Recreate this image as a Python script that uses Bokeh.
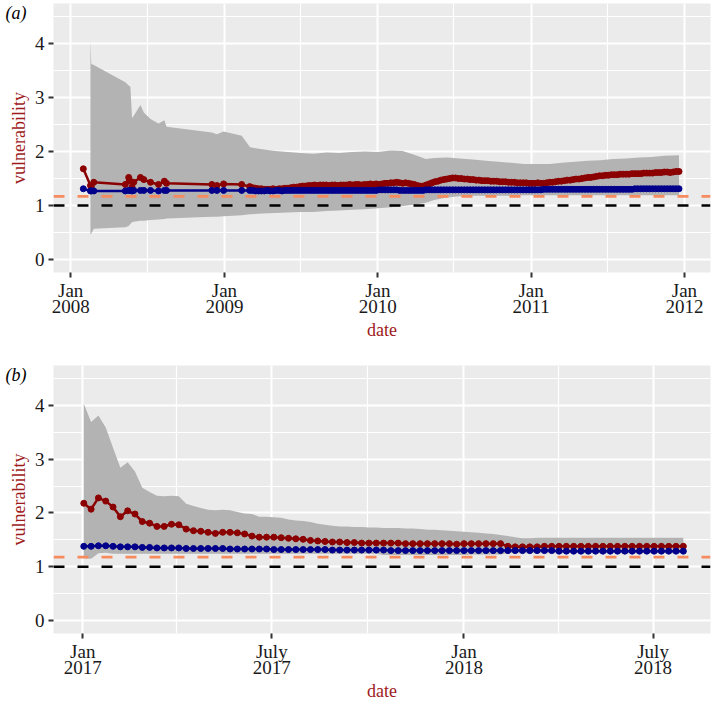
import numpy as np
import pandas as pd
from bokeh.plotting import figure
from bokeh.models import Span, FixedTicker, Range1d, LinearAxis
from bokeh.layouts import column
from bokeh.embed import file_html
from bokeh.resources import INLINE

# ---------------- panel (a) data ----------------
a_early_dates = ["2008-01-31", "2008-02-17", "2008-02-19", "2008-02-25", "2008-05-10",
                 "2008-05-18", "2008-05-22", "2008-05-26", "2008-05-30", "2008-06-15",
                 "2008-06-23", "2008-07-09", "2008-07-28", "2008-08-11", "2008-08-16",
                 "2008-12-02", "2008-12-14", "2008-12-30", "2009-02-11"]
a_early_red = [1.68, 1.37, 1.35, 1.43, 1.39, 1.52, 1.45, 1.34, 1.43, 1.52,
               1.48, 1.43, 1.39, 1.45, 1.41, 1.39, 1.37, 1.40, 1.39]
a_early_blue = [1.31, 1.27, 1.27, 1.27, 1.27, 1.28, 1.28, 1.27, 1.28, 1.28,
                1.28, 1.28, 1.27, 1.28, 1.28, 1.28, 1.28, 1.28, 1.28]
# weekly observations from 2009-03-02
a_weekly_start = "2009-03-02"
a_weekly_red = [
    1.35, 1.33, 1.32, 1.31, 1.31, 1.30, 1.30, 1.30, 1.31, 1.30, 1.31, 1.31,
    1.32, 1.32, 1.33, 1.34, 1.34, 1.35, 1.36, 1.36, 1.37, 1.37, 1.38, 1.37,
    1.38, 1.38, 1.38, 1.37, 1.38, 1.38, 1.37, 1.38, 1.38, 1.38, 1.39, 1.38,
    1.39, 1.39, 1.38, 1.39, 1.39, 1.40, 1.39, 1.40, 1.39, 1.40, 1.41, 1.41,
    1.42, 1.42, 1.43, 1.42, 1.41, 1.42, 1.41, 1.40, 1.39, 1.37, 1.36, 1.36,
    1.38, 1.40, 1.42, 1.44, 1.45, 1.47, 1.48, 1.49, 1.50, 1.51, 1.51, 1.50,
    1.50, 1.49, 1.49, 1.48, 1.48, 1.47, 1.47, 1.46, 1.46, 1.46, 1.45, 1.45,
    1.45, 1.44, 1.44, 1.44, 1.43, 1.43, 1.43, 1.42, 1.42, 1.42, 1.42, 1.41,
    1.41, 1.41, 1.42, 1.41, 1.41, 1.42, 1.43, 1.43, 1.44, 1.45, 1.45, 1.46,
    1.47, 1.47, 1.48, 1.49, 1.49, 1.50, 1.51, 1.52, 1.52, 1.53, 1.54, 1.55,
    1.55, 1.56, 1.56, 1.57, 1.57, 1.57, 1.58, 1.58, 1.58, 1.58, 1.59, 1.59,
    1.59, 1.59, 1.60, 1.60, 1.60, 1.60, 1.61, 1.61, 1.61, 1.62, 1.62, 1.61,
    1.62, 1.63, 1.63]
a_weekly_blue = [
    1.28, 1.28, 1.27, 1.27, 1.27, 1.27, 1.28, 1.27, 1.27, 1.28, 1.28, 1.27,
    1.28, 1.28, 1.28, 1.28, 1.28, 1.28, 1.28, 1.28, 1.28, 1.28, 1.28, 1.28,
    1.28, 1.28, 1.28, 1.28, 1.28, 1.28, 1.28, 1.28, 1.28, 1.28, 1.28, 1.28,
    1.28, 1.28, 1.28, 1.28, 1.28, 1.28, 1.28, 1.28, 1.29, 1.29, 1.29, 1.29,
    1.29, 1.29, 1.29, 1.28, 1.28, 1.28, 1.28, 1.28, 1.28, 1.28, 1.28, 1.28,
    1.29, 1.29, 1.29, 1.29, 1.29, 1.29, 1.29, 1.29, 1.29, 1.29, 1.29, 1.29,
    1.29, 1.29, 1.29, 1.29, 1.29, 1.29, 1.29, 1.29, 1.29, 1.29, 1.29, 1.29,
    1.29, 1.29, 1.29, 1.29, 1.29, 1.29, 1.29, 1.29, 1.29, 1.29, 1.29, 1.29,
    1.29, 1.29, 1.29, 1.29, 1.30, 1.30, 1.30, 1.30, 1.30, 1.30, 1.30, 1.30,
    1.30, 1.30, 1.30, 1.30, 1.30, 1.30, 1.30, 1.30, 1.30, 1.30, 1.30, 1.30,
    1.30, 1.30, 1.30, 1.30, 1.30, 1.30, 1.30, 1.30, 1.30, 1.30, 1.30, 1.31,
    1.31, 1.31, 1.31, 1.31, 1.31, 1.31, 1.31, 1.31, 1.31, 1.31, 1.31, 1.31,
    1.31, 1.31, 1.31]
a_rib_dates = ["2008-02-17", "2008-02-19", "2008-02-25", "2008-05-10", "2008-05-18",
               "2008-05-22", "2008-05-26", "2008-05-30", "2008-06-15", "2008-06-23",
               "2008-07-09", "2008-07-28", "2008-08-11", "2008-08-16", "2008-12-02",
               "2008-12-14", "2008-12-30", "2009-02-11", "2009-03-03", "2009-04-01",
               "2009-05-01", "2009-06-01", "2009-07-01", "2009-08-01", "2009-09-01",
               "2009-10-01", "2009-11-01", "2009-12-01", "2010-01-01", "2010-02-01",
               "2010-03-01", "2010-04-01", "2010-04-25", "2010-05-15", "2010-06-15",
               "2010-07-15", "2010-08-15", "2010-09-15", "2010-10-15", "2010-11-15",
               "2010-12-15", "2011-01-15", "2011-02-15", "2011-03-15", "2011-04-15",
               "2011-05-15", "2011-06-15", "2011-07-15", "2011-08-15", "2011-09-15",
               "2011-10-15", "2011-11-15", "2011-12-19"]
a_rib_lo = [0.46, 0.48, 0.57, 0.60, 0.62, 0.66, 0.69, 0.70, 0.72, 0.72,
            0.73, 0.74, 0.75, 0.76, 0.79, 0.79, 0.80, 0.82, 0.84, 0.85,
            0.86, 0.87, 0.88, 0.88, 0.90, 0.91, 0.92, 0.93, 0.95, 0.97,
            0.99, 1.02, 1.05, 1.10, 1.15, 1.17, 1.18, 1.18, 1.18, 1.18,
            1.19, 1.19, 1.19, 1.19, 1.19, 1.19, 1.19, 1.19, 1.19, 1.19,
            1.19, 1.19, 1.19]
a_rib_hi = [4.06, 3.62, 3.60, 3.28, 3.22, 3.20, 2.62, 2.66, 2.86, 2.72,
            2.60, 2.52, 2.58, 2.46, 2.35, 2.32, 2.37, 2.29, 2.08, 2.04,
            2.01, 1.99, 1.97, 1.96, 1.98, 1.97, 1.99, 2.00, 1.99, 2.02,
            2.01, 1.93, 1.86, 1.88, 1.89, 1.87, 1.85, 1.83, 1.81, 1.79,
            1.77, 1.77, 1.77, 1.79, 1.81, 1.83, 1.84, 1.86, 1.87, 1.89,
            1.90, 1.92, 1.93]
a_ref_orange = 1.17
a_ref_black = 1.0
a_ticks = ["2008-01-01", "2009-01-01", "2010-01-01", "2011-01-01", "2012-01-01"]
a_tick_labels = ["Jan\n2008", "Jan\n2009", "Jan\n2010", "Jan\n2011", "Jan\n2012"]
a_minor = ["2008-07-01", "2009-07-01", "2010-07-01", "2011-07-01"]

# ---------------- panel (b) data (weekly from 2017-01-02) ----------------
b_start = "2017-01-02"
b_red = [2.18, 2.07, 2.28, 2.22, 2.11, 1.93, 2.04, 1.98, 1.84, 1.81, 1.75, 1.75,
         1.79, 1.78, 1.70, 1.67, 1.66, 1.64, 1.62, 1.64, 1.64, 1.63, 1.61, 1.57,
         1.55, 1.55, 1.55, 1.54, 1.53, 1.52, 1.51, 1.49, 1.48, 1.47, 1.46, 1.46,
         1.45, 1.45, 1.44, 1.44, 1.44, 1.44, 1.44, 1.44, 1.43, 1.43, 1.43, 1.43,
         1.43, 1.43, 1.43, 1.42, 1.43, 1.43, 1.43, 1.43, 1.43, 1.43, 1.38, 1.37,
         1.37, 1.37, 1.37, 1.38, 1.38, 1.38, 1.38, 1.38, 1.38, 1.38, 1.38, 1.38,
         1.38, 1.38, 1.38, 1.38, 1.38, 1.38, 1.38, 1.38, 1.38, 1.38, 1.38]
b_blue = [1.38, 1.38, 1.39, 1.39, 1.38, 1.37, 1.37, 1.37, 1.36, 1.36, 1.35, 1.35,
          1.35, 1.35, 1.34, 1.34, 1.34, 1.34, 1.34, 1.34, 1.33, 1.33, 1.33, 1.33,
          1.33, 1.33, 1.32, 1.32, 1.32, 1.32, 1.32, 1.32, 1.32, 1.32, 1.31, 1.31,
          1.31, 1.31, 1.31, 1.31, 1.31, 1.31, 1.30, 1.30, 1.30, 1.30, 1.30, 1.30,
          1.30, 1.30, 1.30, 1.30, 1.30, 1.30, 1.30, 1.30, 1.30, 1.30, 1.30, 1.30,
          1.30, 1.30, 1.30, 1.30, 1.30, 1.29, 1.29, 1.29, 1.29, 1.29, 1.29, 1.29,
          1.29, 1.29, 1.29, 1.29, 1.29, 1.29, 1.29, 1.29, 1.29, 1.29, 1.29]
b_hi = [4.03, 3.69, 3.81, 3.59, 3.21, 2.84, 2.94, 2.77, 2.47, 2.39, 2.32, 2.31,
        2.32, 2.31, 2.17, 2.13, 2.09, 2.06, 2.05, 2.06, 2.05, 2.02, 1.99, 1.98,
        1.93, 1.93, 1.92, 1.91, 1.88, 1.86, 1.85, 1.83, 1.80, 1.78, 1.76, 1.75,
        1.75, 1.74, 1.74, 1.73, 1.73, 1.72, 1.72, 1.72, 1.71, 1.71, 1.70, 1.69,
        1.69, 1.68, 1.67, 1.66, 1.65, 1.64, 1.63, 1.62, 1.61, 1.59, 1.57, 1.55,
        1.53, 1.53, 1.54, 1.54, 1.54, 1.54, 1.54, 1.54, 1.54, 1.54, 1.54, 1.54,
        1.54, 1.54, 1.54, 1.54, 1.54, 1.54, 1.54, 1.54, 1.54, 1.54, 1.54]
b_lo = [1.16, 1.15, 1.25, 1.26, 1.24, 1.24, 1.24, 1.24, 1.24, 1.24, 1.24, 1.24,
        1.24, 1.24, 1.24, 1.24, 1.24, 1.24, 1.24, 1.24, 1.24, 1.24, 1.24, 1.24,
        1.24, 1.24, 1.24, 1.24, 1.24, 1.24, 1.24, 1.24, 1.24, 1.24, 1.24, 1.24,
        1.24, 1.24, 1.24, 1.24, 1.24, 1.22, 1.22, 1.22, 1.22, 1.22, 1.22, 1.22,
        1.22, 1.22, 1.22, 1.22, 1.22, 1.23, 1.23, 1.23, 1.23, 1.23, 1.25, 1.25,
        1.25, 1.25, 1.25, 1.25, 1.25, 1.25, 1.25, 1.25, 1.25, 1.25, 1.25, 1.25,
        1.25, 1.25, 1.25, 1.25, 1.25, 1.25, 1.25, 1.25, 1.25, 1.25, 1.25]
b_ref_orange = 1.18
b_ref_black = 1.0
b_ticks = ["2017-01-01", "2017-07-01", "2018-01-01", "2018-07-01"]
b_tick_labels = ["Jan\n2017", "July\n2017", "Jan\n2018", "July\n2018"]
b_minor = ["2017-04-01", "2017-10-01", "2018-04-01"]

y_ticks = [0, 1, 2, 3, 4]
y_minor = [0.5, 1.5, 2.5, 3.5, 4.5]
TAG_Y = 4.57

# ---------------- styling ----------------
FONT = "Liberation Serif"
RED = "#8B0000"
BLUE = "#00008B"
RIBBON = "#B3B3B3"
ORANGE = "#F68B60"
LABEL_RED = "#9E1A1A"
PANEL_BG = "#EBEBEB"
WIDTH = 712
LEFT = 53
Y_LO, Y_HI = -0.24, 4.74


def ms(d):
    return pd.Timestamp(d).value // 10**6


def make_panel(tag, line_x, red, blue, rib_x, lo, hi, orange, black,
               ticks, tick_labels, minor, x_lo, x_hi, height, top, bottom):
    p = figure(width=WIDTH, height=height, x_axis_type="datetime",
               output_backend="svg", toolbar_location=None,
               x_range=Range1d(pd.Timestamp(x_lo), pd.Timestamp(x_hi)),
               y_range=Range1d(Y_LO, Y_HI),
               min_border_left=LEFT, min_border_right=2,
               min_border_top=top, min_border_bottom=bottom)
    p.background_fill_color = PANEL_BG
    p.border_fill_color = "white"
    p.outline_line_color = None

    tick_ms = [ms(t) for t in ticks]
    p.xaxis.ticker = FixedTicker(ticks=tick_ms, minor_ticks=[ms(t) for t in minor])
    p.xaxis.major_label_overrides = {t: l for t, l in zip(tick_ms, tick_labels)}
    p.yaxis.ticker = FixedTicker(ticks=y_ticks, minor_ticks=y_minor)

    for ax in (p.xaxis[0], p.yaxis[0]):
        ax.axis_line_color = None
        ax.major_tick_line_color = "#333333"
        ax.major_tick_line_width = 2
        ax.major_tick_out = 5
        ax.major_tick_in = 0
        ax.minor_tick_line_color = None
        ax.major_label_text_font = FONT
        ax.major_label_text_font_size = "19px"
        ax.major_label_text_line_height = 0.8
        ax.major_label_text_color = "#1a1a1a"
        ax.axis_label_text_font = FONT
        ax.axis_label_text_font_size = "18px"
        ax.axis_label_text_font_style = "normal"
        ax.axis_label_text_color = LABEL_RED
    p.xaxis.axis_label = "date"
    p.yaxis.axis_label = "vulnerability"
    p.xaxis.major_label_standoff = 2
    p.yaxis.major_label_standoff = 4
    p.xaxis.axis_label_standoff = 0
    p.yaxis.axis_label_standoff = 3

    # outer helper axis carrying the panel tag, top-left beside the frame
    tag_axis = LinearAxis(ticker=FixedTicker(ticks=[TAG_Y]),
                          major_label_overrides={TAG_Y: tag})
    tag_axis.axis_line_color = None
    tag_axis.major_tick_line_color = None
    tag_axis.minor_tick_line_color = None
    tag_axis.major_tick_out = 0
    tag_axis.major_tick_in = 0
    tag_axis.major_label_standoff = -21
    tag_axis.major_label_text_font = FONT
    tag_axis.major_label_text_font_style = "italic"
    tag_axis.major_label_text_font_size = "18px"
    tag_axis.major_label_text_color = "black"
    p.add_layout(tag_axis, "left")

    for g in (p.xgrid[0], p.ygrid[0]):
        g.grid_line_color = "white"
        g.grid_line_width = 2
        g.minor_grid_line_color = "white"
        g.minor_grid_line_width = 1.2

    p.varea(x=pd.to_datetime(rib_x), y1=lo, y2=hi, fill_color=RIBBON, fill_alpha=1)

    p.add_layout(Span(location=orange, dimension="width", line_color=ORANGE,
                      line_width=2.6, line_dash="11 13"))
    p.add_layout(Span(location=black, dimension="width", line_color="black",
                      line_width=2.6, line_dash="11 13"))

    p.line(line_x, red, line_color=RED, line_width=2.5)
    p.scatter(line_x, red, size=6, fill_color=RED, line_color=RED)
    p.line(line_x, blue, line_color=BLUE, line_width=2.5)
    p.scatter(line_x, blue, size=6, fill_color=BLUE, line_color=BLUE)
    return p


a_x = pd.to_datetime(a_early_dates).append(
    pd.date_range(a_weekly_start, periods=len(a_weekly_red), freq="7D"))
a_red = a_early_red + a_weekly_red
a_blue = a_early_blue + a_weekly_blue

b_x = pd.date_range(b_start, periods=len(b_red), freq="7D")

pa = make_panel("(a)", a_x, a_red, a_blue, a_rib_dates, a_rib_lo, a_rib_hi,
                a_ref_orange, a_ref_black, a_ticks, a_tick_labels, a_minor,
                "2007-11-21", "2012-03-03", 362, 3, 90)
pb = make_panel("(b)", b_x, b_red, b_blue, b_x, b_lo, b_hi,
                b_ref_orange, b_ref_black, b_ticks, b_tick_labels, b_minor,
                "2016-12-04", "2018-08-25", 345, 3, 74)

layout = column(pa, pb, spacing=0)
open("out.html", "w").write(file_html(layout, INLINE))
